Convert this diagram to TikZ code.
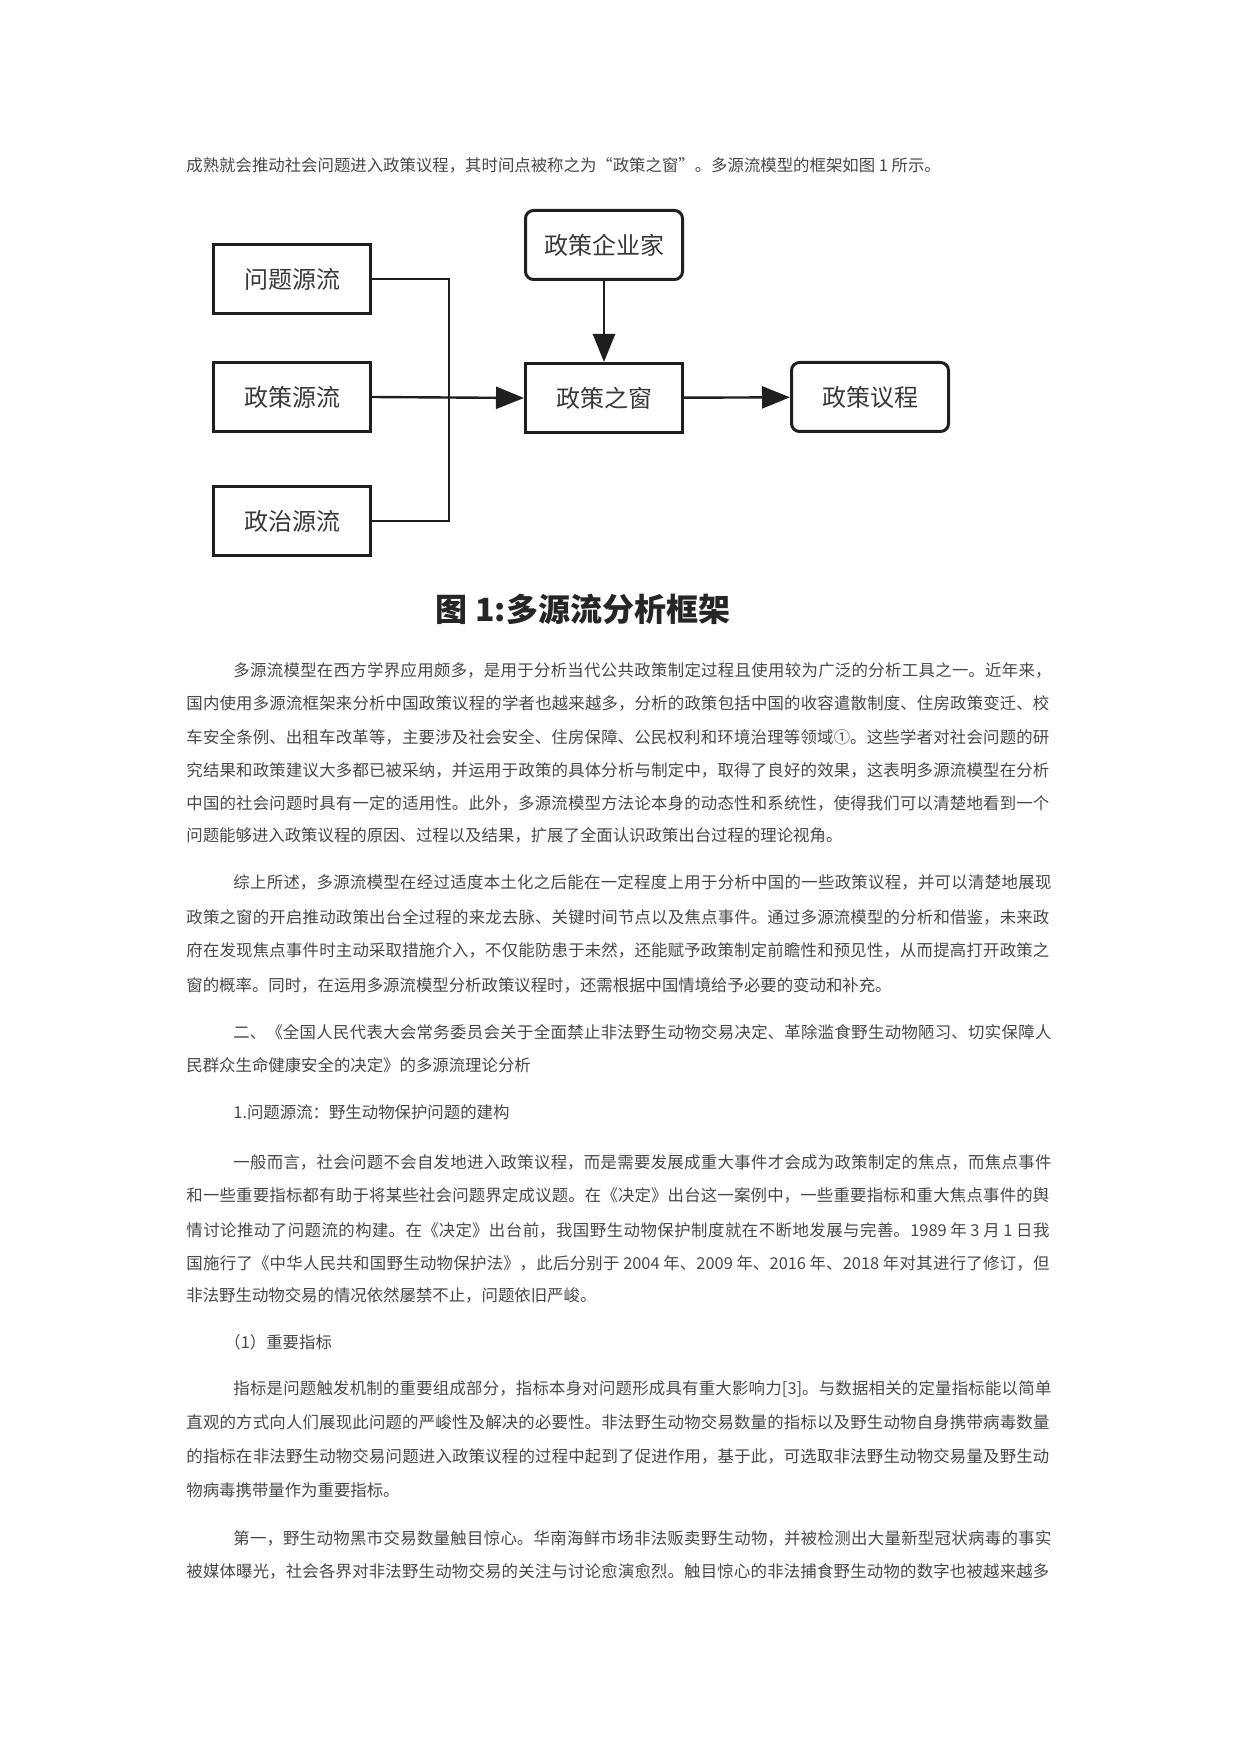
\documentclass[tikz,border=0pt]{standalone}
\usepackage{fontspec}
\setmainfont{Noto Sans CJK SC}
\usepackage{xcolor}
\usepackage{tikz}
\usetikzlibrary{arrows.meta}

\XeTeXlinebreaklocale "zh"
\XeTeXlinebreakskip=0pt plus 1fil
\newcommand\wideline[1]{\parbox[c]{431.5pt}{\parfillskip=0pt #1}}
\newcommand\indline[1]{\parbox[c]{409pt}{\parfillskip=0pt #1}}

\begin{document}
\begin{tikzpicture}[x=0.5pt, y=-0.5pt,
    box/.style={draw=black!88, line width=1.5pt, minimum width=78.5pt, minimum height=34.5pt, inner sep=0pt,
        text=black!78, font=\fontsize{12}{14}\selectfont},
    rbox/.style={box, rounded corners=4pt},
    link/.style={draw=black!88, line width=1.2pt},
    arrow/.style={link, -{Triangle[length=14pt, width=11pt]}},
    body/.style={anchor=west, inner sep=0pt, text=black!72, font=\fontsize{8.2}{9.5}\selectfont}]
    \useasboundingbox (0,0) rectangle (1240,1754);

    \node[body] (l0) at (186, 165){成熟就会推动社会问题进入政策议程，其时间点被称之为“政策之窗”。多源流模型的框架如图 1 所示。};

    \node[box] (prob) at (292, 279){问题源流};
    \node[box] (policy) at (292, 397){政策源流};
    \node[box] (politics) at (292, 521){政治源流};
    \coordinate (bus) at (449, 397);

    \node[rbox] (entre) at (604, 245){政策企业家};
    \node[box] (window) at (604, 398){政策之窗};
    \node[rbox] (agenda) at (870, 397){政策议程};

    \draw[link] (prob.east) -| (bus);
    \draw[link] (politics.east) -| (bus);
    \draw[arrow] (policy.east) -- (window.west);
    \draw[arrow] (entre) -- (window);
    \draw[arrow] (window) -- (agenda);

    \node[font=\fontsize{16}{18}\selectfont\bfseries, text=black!85] (cap) at (583, 609){图 1:多源流分析框架};

    \node[body] (p1a) at (233, 670){\indline{多源流模型在西方学界应用颇多，是用于分析当代公共政策制定过程且使用较为广泛的分析工具之一。近年来，}};
    \node[body] (p1b) at (186, 703){\wideline{国内使用多源流框架来分析中国政策议程的学者也越来越多，分析的政策包括中国的收容遣散制度、住房政策变迁、校}};
    \node[body] (p1c) at (186, 737){\wideline{车安全条例、出租车改革等，主要涉及社会安全、住房保障、公民权利和环境治理等领域①。这些学者对社会问题的研}};
    \node[body] (p1d) at (186, 770){\wideline{究结果和政策建议大多都已被采纳，并运用于政策的具体分析与制定中，取得了良好的效果，这表明多源流模型在分析}};
    \node[body] (p1e) at (186, 803){\wideline{中国的社会问题时具有一定的适用性。此外，多源流模型方法论本身的动态性和系统性，使得我们可以清楚地看到一个}};
    \node[body] (p1f) at (186, 835){问题能够进入政策议程的原因、过程以及结果，扩展了全面认识政策出台过程的理论视角。};

    \node[body] (p2a) at (233, 882){\indline{综上所述，多源流模型在经过适度本土化之后能在一定程度上用于分析中国的一些政策议程，并可以清楚地展现}};
    \node[body] (p2b) at (186, 917){\wideline{政策之窗的开启推动政策出台全过程的来龙去脉、关键时间节点以及焦点事件。通过多源流模型的分析和借鉴，未来政}};
    \node[body] (p2c) at (186, 950){\wideline{府在发现焦点事件时主动采取措施介入，不仅能防患于未然，还能赋予政策制定前瞻性和预见性，从而提高打开政策之}};
    \node[body] (p2d) at (186, 985){窗的概率。同时，在运用多源流模型分析政策议程时，还需根据中国情境给予必要的变动和补充。};

    \node[body] (h2a) at (233, 1032){\indline{二、《全国人民代表大会常务委员会关于全面禁止非法野生动物交易决定、革除滥食野生动物陋习、切实保障人}};
    \node[body] (h2b) at (186, 1065){民群众生命健康安全的决定》的多源流理论分析};

    \node[body] (h3) at (233, 1112){1.问题源流：野生动物保护问题的建构};

    \node[body] (p3a) at (233, 1162){\indline{一般而言，社会问题不会自发地进入政策议程，而是需要发展成重大事件才会成为政策制定的焦点，而焦点事件}};
    \node[body] (p3b) at (186, 1195){\wideline{和一些重要指标都有助于将某些社会问题界定成议题。在《决定》出台这一案例中，一些重要指标和重大焦点事件的舆}};
    \node[body] (p3c) at (186, 1230){\wideline{情讨论推动了问题流的构建。在《决定》出台前，我国野生动物保护制度就在不断地发展与完善。1989 年 3 月 1 日我}};
    \node[body] (p3d) at (186, 1263){\wideline{国施行了《中华人民共和国野生动物保护法》，此后分别于 2004 年、2009 年、2016 年、2018 年对其进行了修订，但}};
    \node[body] (p3e) at (186, 1295){非法野生动物交易的情况依然屡禁不止，问题依旧严峻。};

    \node[body] (h4) at (224, 1342){（1）重要指标};

    \node[body] (p4a) at (233, 1389){\indline{指标是问题触发机制的重要组成部分，指标本身对问题形成具有重大影响力[3]。与数据相关的定量指标能以简单}};
    \node[body] (p4b) at (186, 1422){\wideline{直观的方式向人们展现此问题的严峻性及解决的必要性。非法野生动物交易数量的指标以及野生动物自身携带病毒数量}};
    \node[body] (p4c) at (186, 1456){\wideline{的指标在非法野生动物交易问题进入政策议程的过程中起到了促进作用，基于此，可选取非法野生动物交易量及野生动}};
    \node[body] (p4d) at (186, 1490){物病毒携带量作为重要指标。};

    \node[body] (p5a) at (233, 1538){\indline{第一，野生动物黑市交易数量触目惊心。华南海鲜市场非法贩卖野生动物，并被检测出大量新型冠状病毒的事实}};
    \node[body] (p5b) at (186, 1571){\wideline{被媒体曝光，社会各界对非法野生动物交易的关注与讨论愈演愈烈。触目惊心的非法捕食野生动物的数字也被越来越多}};
\end{tikzpicture}
\end{document}
